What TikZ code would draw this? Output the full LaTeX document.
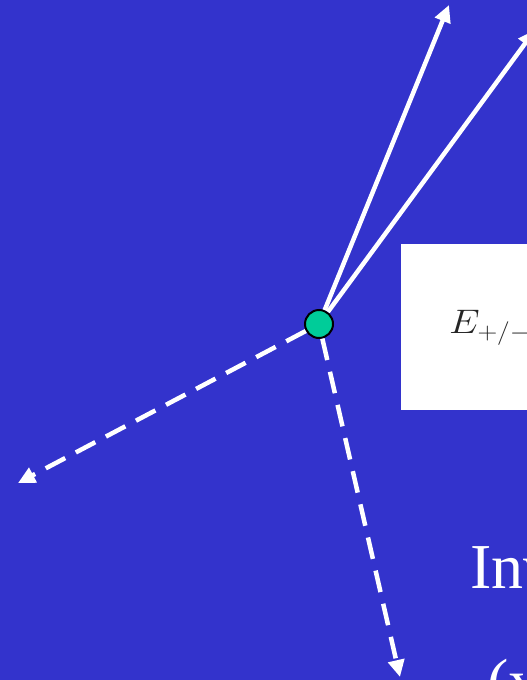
\RequirePackage{fix-cm}
\documentclass[tikz,border=0pt]{standalone}
\usepackage{fontspec}
\setmainfont{Liberation Serif}
\usepackage{xcolor}
\usetikzlibrary{arrows.meta,positioning}
\definecolor{slideblue}{RGB}{51,51,204}
\definecolor{vtxgreen}{RGB}{0,204,153}

\begin{document}
\begin{tikzpicture}[x=1pt,y=-1pt,
  track/.style={white,line width=4.5pt,-{Triangle[length=17pt,width=16pt]}},
  ghost/.style={track,dash pattern=on 22pt off 12pt},
  vertex/.style={circle,draw=black,line width=2pt,fill=vtxgreen,minimum size=28pt,inner sep=0pt},
  bigtext/.style={white,font=\fontsize{64}{70}\selectfont,anchor=base west,inner sep=0pt}]
\useasboundingbox (0,0) rectangle (527,680);
\clip (0,0) rectangle (527,680);
\fill[slideblue] (0,0) rectangle (527,680);
% mass box
\node[fill=white,anchor=north west,minimum width=160pt,minimum height=166pt,inner sep=0pt] (massbox) at (401,244) {};
\node[anchor=base west,inner sep=0pt,text=black!85,font=\fontsize{34}{40}\selectfont] (masstxt) at (449,333) {\scalebox{1.15}[1]{$E_{+/-}$}};
% decay vertex and tracks
\node[vertex] (vtx) at (319,324) {};
\coordinate (t1) at (449,5);
\coordinate (t2) at (535,30);
\coordinate (t3) at (18,483);
\coordinate (t4) at (400,677);
\draw[track] (vtx) -- (t1);
\draw[track] (vtx) -- (t2);
\draw[ghost] (vtx) -- (t3);
\draw[ghost] (vtx) -- (t4);
% caption text
\node[bigtext] (inv) at (470,588) {Inv};
\node[bigtext] (invx) at (487,703) {(x};
\end{tikzpicture}
\end{document}
